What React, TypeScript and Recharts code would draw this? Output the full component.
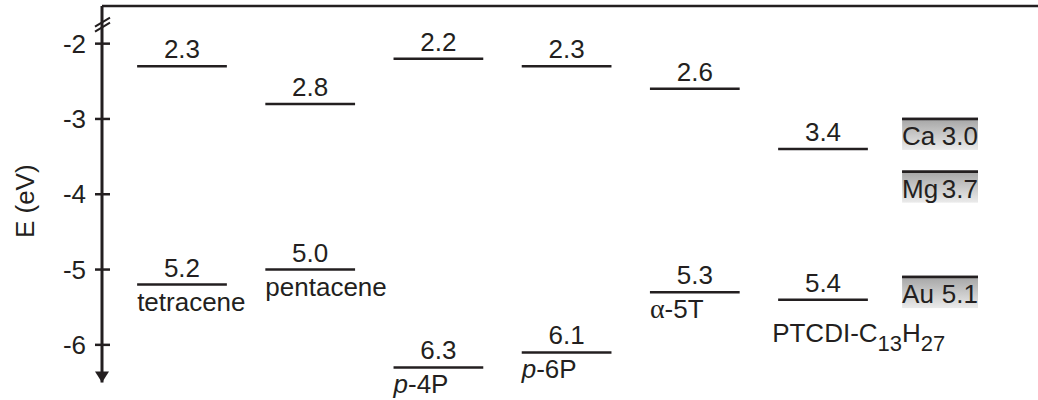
import { ComposedChart, XAxis, YAxis, ReferenceLine, ReferenceDot } from "recharts";

// energy levels in eV (shown as positive numbers, plotted as negative energies)
const molecules = ["tetracene", "pentacene", "p-4P", "p-6P", "α-5T", "PTCDI-C13H27"];
const lumo = [2.3, 2.8, 2.2, 2.3, 2.6, 3.4];
const homo = [5.2, 5.0, 6.3, 6.1, 5.3, 5.4];
const metals = ["Ca", "Mg", "Au"];
const workFunctions = [3.0, 3.7, 5.1];
const yTicks = [-2, -3, -4, -5, -6];

const X_MIN = -0.624;
const X_MAX = 6.677;
const Y_MIN = -6.5;
const Y_MAX = -1.5;
const HALF = 0.35;
const METAL_X = 5.913;
const METAL_HALF = 0.296;

const INK = "#231f20";
const FONT = "'Liberation Sans', Arial, Helvetica, sans-serif";
const textStyle = { fontFamily: FONT, fontSize: 26, fill: INK };

const renderName = (name: string) => {
  const out: any[] = [];
  let rest = name;
  if (rest.startsWith("p-")) {
    out.push(
      <tspan key="p" fontStyle="italic">
        p
      </tspan>
    );
    rest = rest.slice(1);
  }
  if (rest.startsWith("α")) {
    // greek alpha is set in a serif face in the original
    out.push(
      <tspan key="a" fontFamily="'Liberation Serif', 'Times New Roman', serif" fontSize={28}>
        α
      </tspan>
    );
    rest = rest.slice(1);
  }
  const parts = rest.split(/(?<=[A-Z])(\d+)/);
  let down = false;
  parts.forEach((part, i) => {
    if (!part) return;
    if (i % 2 === 1) {
      out.push(
        <tspan key={i} fontSize={22} dy={down ? 0 : 9}>
          {part}
        </tspan>
      );
      down = true;
    } else {
      out.push(
        <tspan key={i} dy={down ? -9 : 0}>
          {part}
        </tspan>
      );
      down = false;
    }
  });
  return out;
};

const levelLabel =
  (value: number, name?: string, nameDx = 0, nameDy = 26) =>
  (props: any) => {
    const { x, y, width } = props.viewBox;
    return (
      <g>
        <text x={x + width / 2} y={y - 8} textAnchor="middle" {...textStyle}>
          {value.toFixed(1)}
        </text>
        {name && (
          <text x={x + nameDx} y={y + nameDy} {...textStyle}>
            {renderName(name)}
          </text>
        )}
      </g>
    );
  };

const metalLabel = (name: string, value: number) => (props: any) => {
  const { x, y, width } = props.viewBox;
  const id = `metal-${name}`;
  return (
    <g>
      <defs>
        <linearGradient id={id} x1="0" y1="0" x2="0" y2="1">
          <stop offset="0%" stopColor="#a8a8a8" />
          <stop offset="100%" stopColor="#ebebeb" />
        </linearGradient>
      </defs>
      <rect x={x} y={y + 1} width={width} height={30} fill={`url(#${id})`} />
      <line x1={x} x2={x + width} y1={y} y2={y} stroke={INK} strokeWidth={2.5} />
      <text x={x} y={y + 26} {...textStyle}>
        {name}
      </text>
      <text x={x + width} y={y + 26} textAnchor="end" {...textStyle}>
        {value.toFixed(1)}
      </text>
    </g>
  );
};

const YTick = (props: any) => {
  const { x, y, payload } = props;
  return (
    <g>
      <line x1={x - 7} x2={x + 8} y1={y} y2={y} stroke={INK} strokeWidth={2.5} />
      <text x={x - 16} y={y} dy="0.35em" textAnchor="end" {...textStyle}>
        {String(payload.value)}
      </text>
    </g>
  );
};

const AxisTitle = (props: any) => {
  const { x, y, height } = props.viewBox;
  const cx = x + 34;
  const cy = y + height / 2 + 7;
  return (
    <text x={cx} y={cy} textAnchor="middle" transform={`rotate(-90, ${cx}, ${cy})`} {...textStyle}>
      E (eV)
    </text>
  );
};

const Arrow = (props: any) => {
  const { cx, cy } = props;
  return <path d={`M${cx - 7},${cy - 11} L${cx + 7},${cy - 11} L${cx},${cy} Z`} fill={INK} />;
};

const AxisBreak = (props: any) => {
  const { cx, cy } = props;
  return (
    <g stroke={INK} strokeWidth={2}>
      <line x1={cx - 7} y1={cy + 2} x2={cx + 8} y2={cy - 7} />
      <line x1={cx - 7} y1={cy + 7} x2={cx + 8} y2={cy - 2} />
    </g>
  );
};

const nameOffset = (i: number) => (molecules[i].startsWith("PTCDI") ? [-6, 42] : [0, 26]);

export default function App() {
  return (
    <div style={{ position: "absolute", left: 0, top: 0, background: "#fff" }}>
      <ComposedChart
        width={1038}
        height={400}
        data={[]}
        margin={{ top: 6, right: 0, bottom: 17.5, left: 0 }}
      >
        <XAxis type="number" dataKey="x" domain={[X_MIN, X_MAX]} allowDataOverflow hide />
        <YAxis
          type="number"
          domain={[Y_MIN, Y_MAX]}
          allowDataOverflow
          ticks={yTicks}
          width={102}
          tickSize={0}
          tickMargin={0}
          tickLine={false}
          axisLine={{ stroke: INK, strokeWidth: 3 }}
          tick={<YTick />}
          label={{ content: AxisTitle }}
        />
        <ReferenceLine y={Y_MAX} stroke={INK} strokeWidth={2.5} />
        {molecules.map((m, i) => (
          <ReferenceLine
            key={`l-${m}`}
            segment={[
              { x: i - HALF, y: -lumo[i] },
              { x: i + HALF, y: -lumo[i] },
            ]}
            stroke={INK}
            strokeWidth={2.5}
            label={levelLabel(lumo[i])}
          />
        ))}
        {molecules.map((m, i) => (
          <ReferenceLine
            key={`h-${m}`}
            segment={[
              { x: i - HALF, y: -homo[i] },
              { x: i + HALF, y: -homo[i] },
            ]}
            stroke={INK}
            strokeWidth={2.5}
            label={levelLabel(homo[i], m, nameOffset(i)[0], nameOffset(i)[1])}
          />
        ))}
        {metals.map((m, i) => (
          <ReferenceLine
            key={`m-${m}`}
            segment={[
              { x: METAL_X - METAL_HALF, y: -workFunctions[i] },
              { x: METAL_X + METAL_HALF, y: -workFunctions[i] },
            ]}
            stroke={INK}
            strokeWidth={2.5}
            label={metalLabel(m, workFunctions[i])}
          />
        ))}
        <ReferenceDot x={X_MIN} y={Y_MIN} shape={<Arrow />} />
        <ReferenceDot x={X_MIN} y={-1.748} shape={<AxisBreak />} />
      </ComposedChart>
    </div>
  );
}
